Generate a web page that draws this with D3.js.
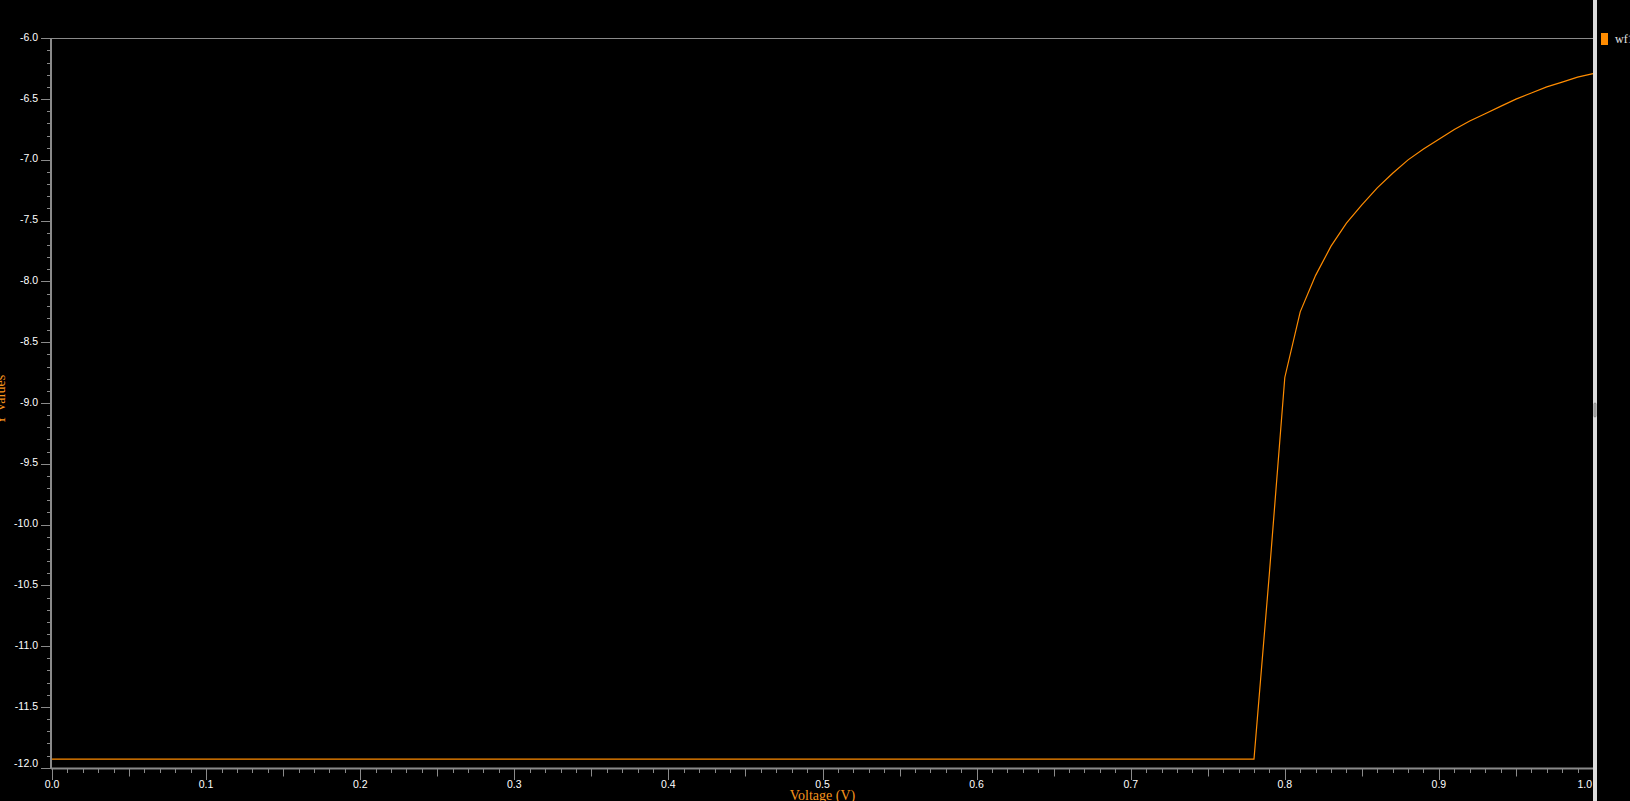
<!DOCTYPE html>
<html>
<head>
<meta charset="utf-8">
<script src="https://cdn.jsdelivr.net/npm/d3@7"></script>
<style>
  html, body { margin: 0; padding: 0; background: #000; overflow: hidden; }
  svg { display: block; }
</style>
</head>
<body>
<svg id="chart" width="1630" height="801"></svg>
<script>
// ---- data ----
const seriesName = "wf1";
const voltage = [0.00, 0.78, 0.79, 0.80, 0.81, 0.82, 0.83, 0.84, 0.85, 0.86, 0.87, 0.88,
                 0.89, 0.90, 0.91, 0.92, 0.93, 0.94, 0.95, 0.96, 0.97, 0.98, 0.99, 1.00];
const yValues = [-11.93, -11.93, -10.40, -8.79, -8.25, -7.95, -7.71, -7.52, -7.37, -7.23, -7.11, -7.00,
                 -6.91, -6.83, -6.75, -6.68, -6.62, -6.56, -6.50, -6.45, -6.40, -6.36, -6.32, -6.29];
const xTickLabels = ["0.0","0.1","0.2","0.3","0.4","0.5","0.6","0.7","0.8","0.9","1.0"];
const yTickLabels = ["-6.0","-6.5","-7.0","-7.5","-8.0","-8.5","-9.0","-9.5","-10.0","-10.5","-11.0","-11.5","-12.0"];
const xTitle = "Voltage (V)";
const yTitle = "Y Values";

// ---- layout ----
const W = 1630, H = 801;
const pLeft = 52, pRight = 1593, pTop = 38.3, pBottom = 767.7;
const orange = "#ff8c00";
const axisGray = "#8a8a8a";

const svg = d3.select("#chart");
svg.append("rect").attr("width", W).attr("height", H).attr("fill", "#000");

const x = d3.scaleLinear().domain([0, 1]).range([pLeft, pRight]);
const y = d3.scaleLinear().domain([-12, -6]).range([pBottom, pTop]);

// top border / gridline at -6.0
svg.append("line")
  .attr("x1", 41).attr("x2", pRight)
  .attr("y1", Math.round(y(-6)) + 0.5).attr("y2", Math.round(y(-6)) + 0.5)
  .attr("stroke", axisGray).attr("stroke-width", 1);

// ---- Y axis ----
const yAxisG = svg.append("g");
yAxisG.append("line")
  .attr("x1", 51).attr("x2", 51).attr("y1", pTop).attr("y2", pBottom + 1)
  .attr("stroke", axisGray).attr("stroke-width", 2);
const yMinor = d3.range(0, 61).map(i => -12 + i * 0.1);
yAxisG.selectAll("line.minor").data(yMinor).join("line")
  .attr("class", "minor")
  .attr("x1", (d, i) => i % 5 === 0 ? 41 : 47)
  .attr("x2", 51)
  .attr("y1", d => Math.round(y(d)) + 0.5).attr("y2", d => Math.round(y(d)) + 0.5)
  .attr("stroke", axisGray).attr("stroke-width", 1);
yAxisG.selectAll("text").data(yTickLabels).join("text")
  .attr("x", 38)
  .attr("y", (d, i) => y(+d) + (i === yTickLabels.length - 1 ? -1 : 2.6))
  .attr("text-anchor", "end")
  .attr("fill", "#fff")
  .attr("font-family", "Liberation Sans, Arial, sans-serif")
  .attr("font-size", "10.5px")
  .text(d => d);

// ---- X axis ----
const xAxisG = svg.append("g");
xAxisG.append("line")
  .attr("x1", pLeft - 1).attr("x2", pRight).attr("y1", 768.5).attr("y2", 768.5)
  .attr("stroke", axisGray).attr("stroke-width", 2);
const xMinor = d3.range(0, 101).map(i => i / 100);
xAxisG.selectAll("line.tick").data(xMinor).join("line")
  .attr("class", "tick")
  .attr("x1", d => Math.round(x(d)) + 0.5).attr("x2", d => Math.round(x(d)) + 0.5)
  .attr("y1", 769)
  .attr("y2", (d, i) => i % 10 === 0 ? 780 : (i % 5 === 0 ? 776.5 : 773))
  .attr("stroke", axisGray).attr("stroke-width", 1);
xAxisG.selectAll("text").data(xTickLabels).join("text")
  .attr("x", d => x(+d))
  .attr("y", 788)
  .attr("text-anchor", (d, i) => i === xTickLabels.length - 1 ? "end" : "middle")
  .attr("dx", (d, i) => i === xTickLabels.length - 1 ? -1 : 0)
  .attr("fill", "#fff")
  .attr("font-family", "Liberation Sans, Arial, sans-serif")
  .attr("font-size", "10.5px")
  .text(d => d);

// ---- titles ----
svg.append("text")
  .attr("x", (pLeft + pRight) / 2).attr("y", 799.5)
  .attr("text-anchor", "middle")
  .attr("fill", "#f7941d")
  .attr("font-family", "Liberation Serif, Times New Roman, serif")
  .attr("font-size", "14px")
  .text(xTitle);
svg.append("text")
  .attr("transform", "translate(4.5,400) rotate(-90)")
  .attr("text-anchor", "middle")
  .attr("fill", "#f7941d")
  .attr("font-family", "Liberation Serif, Times New Roman, serif")
  .attr("font-size", "14px")
  .text(yTitle);

// ---- series line ----
const pts = voltage.map((v, i) => [v, yValues[i]]);
const line = d3.line().x(d => x(d[0])).y(d => y(d[1]));
svg.append("path")
  .datum(pts)
  .attr("d", line)
  .attr("fill", "none")
  .attr("stroke", orange)
  .attr("stroke-width", 1.2);

// ---- splitter bar on right ----
svg.append("rect")
  .attr("x", 1593).attr("y", 0).attr("width", 4).attr("height", H)
  .attr("fill", "#dcdcdc");
svg.append("rect")
  .attr("x", 1594).attr("y", 403).attr("width", 2).attr("height", 14)
  .attr("rx", 1)
  .attr("fill", "#bdbdbd").attr("stroke", "#777").attr("stroke-width", 0.8);

// ---- legend ----
const legend = svg.append("g");
legend.append("rect")
  .attr("x", 1601).attr("y", 33).attr("width", 7).attr("height", 12)
  .attr("fill", orange);
legend.append("text")
  .attr("x", 1615).attr("y", 43)
  .attr("fill", "#e6e6e6")
  .attr("font-family", "Liberation Serif, Times New Roman, serif")
  .attr("font-size", "12px")
  .text(seriesName);
</script>
</body>
</html>
